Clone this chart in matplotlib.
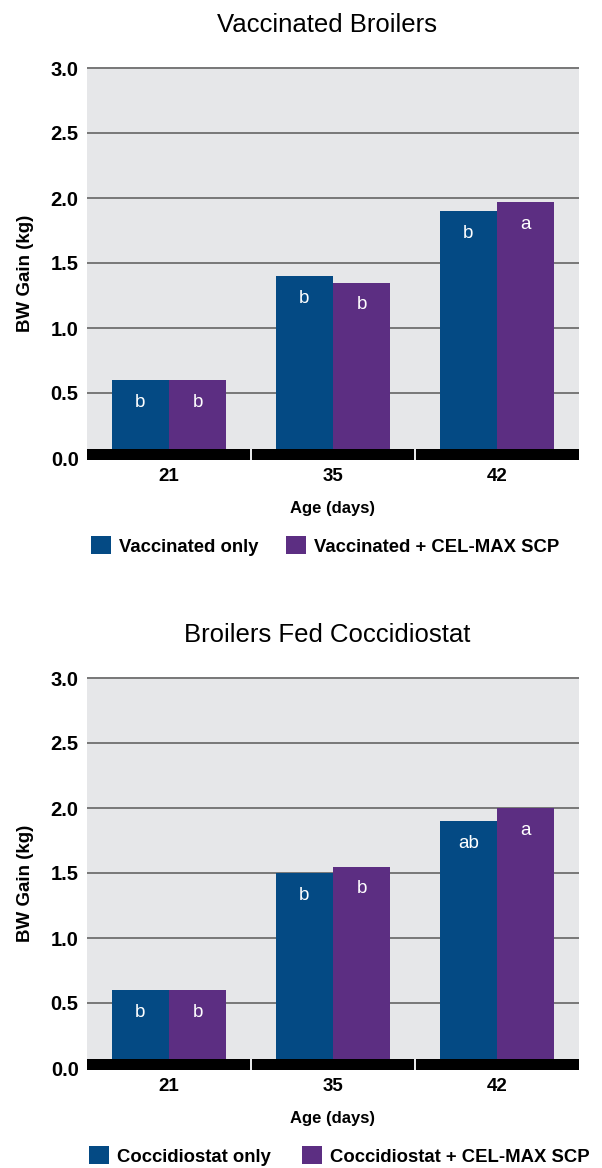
import matplotlib
matplotlib.use("Agg")
import matplotlib.pyplot as plt
from matplotlib.patches import Patch, Rectangle
import numpy as np

plt.rcParams['font.family'] = ['Liberation Sans', 'DejaVu Sans']

# ---------------- data ----------------
ages = ["21", "35", "42"]

vacc_titles = "Vaccinated Broilers"
vacc_series_names = ["Vaccinated only", "Vaccinated + CEL-MAX SCP"]
vacc_only = [0.60, 1.40, 1.90]
vacc_cel = [0.60, 1.35, 1.97]
vacc_only_sig = ["b", "b", "b"]
vacc_cel_sig = ["b", "b", "a"]

cocc_titles = "Broilers Fed Coccidiostat"
cocc_series_names = ["Coccidiostat only", "Coccidiostat + CEL-MAX SCP"]
cocc_only = [0.60, 1.50, 1.90]
cocc_cel = [0.60, 1.55, 2.00]
cocc_only_sig = ["b", "b", "ab"]
cocc_cel_sig = ["b", "b", "a"]

yticks = [0.0, 0.5, 1.0, 1.5, 2.0, 2.5, 3.0]
ytick_labels = ["0.0", "0.5", "1.0", "1.5", "2.0", "2.5", "3.0"]

# ---------------- style ----------------
W, H = 602, 1168
BLUE = "#044a84"
PURPLE = "#5c2e82"
BG = "#e6e7e9"
GRID = "#6f6f6f"

fig = plt.figure(figsize=(W / 100, H / 100), dpi=100)


def px(x):
    return x / W


def py(y):
    return 1 - y / H


def draw_panel(base_y, title, names, s1, s2, l1, l2, leg_x):
    # base_y: pixel row of data value 0
    top_px = base_y - 391           # a bit above 3.0
    bot_px = base_y + 2
    left_px, right_px = 87, 579
    ax = fig.add_axes([px(left_px), py(bot_px), px(right_px - left_px),
                       (bot_px - top_px) / H])
    ax.set_facecolor(BG)
    ax.set_xlim(-0.5, 2.5)
    ax.set_ylim(-2 / 130, 3 + 1 / 130)
    for s in ax.spines.values():
        s.set_visible(False)
    for y in yticks[1:]:
        ax.axhline(y, color=GRID, lw=1.3, zorder=1)

    x = np.arange(len(ages))
    w = 0.35
    b1 = ax.bar(x - w / 2, s1, w, color=BLUE, zorder=2)
    b2 = ax.bar(x + w / 2, s2, w, color=PURPLE, zorder=2)
    for bars, labs in ((b1, l1), (b2, l2)):
        for r, lab in zip(bars, labs):
            ax.annotate(lab, (r.get_x() + r.get_width() / 2, r.get_height()),
                        xytext=(0, -10), textcoords="offset points",
                        ha="center", va="top", color="white", fontsize=13.5,
                        zorder=4)

    # black baseline band with small gaps between groups
    gap = 0.006
    segs = [(-0.5, 0.5 - gap), (0.5 + gap, 1.5 - gap), (1.5 + gap, 2.5)]
    for a, b in segs:
        ax.add_patch(Rectangle((a, -2 / 130), b - a, 11 / 130,
                               facecolor="black", edgecolor="none", zorder=3,
                               clip_on=False))

    ax.set_yticks(yticks)
    ax.set_yticklabels(ytick_labels, fontsize=14.5, fontweight="bold")
    ax.set_xticks(x)
    ax.set_xticklabels(ages, fontsize=13.5, fontweight="bold")
    ax.tick_params(axis="both", length=0)
    ax.tick_params(axis="y", pad=6)
    ax.tick_params(axis="x", pad=6)

    fig.text(px(327), py(base_y - 433), title, fontsize=18.5,
             ha="center", va="center")
    fig.text(px(26), py(base_y - 185), "BW Gain (kg)", fontsize=13.5,
             fontweight="bold", rotation=90, ha="center", va="center")
    fig.text(px(333), py(base_y + 51), "Age (days)", fontsize=12,
             fontweight="bold", ha="center", va="center")

    for name, col, lx in zip(names, (BLUE, PURPLE), leg_x):
        fig.legend(handles=[Patch(facecolor=col, edgecolor="none")],
                   labels=[name], loc="center left",
                   bbox_to_anchor=(px(lx), py(base_y + 88)),
                   frameon=False, borderpad=0, borderaxespad=0,
                   handlelength=20 / 18.5, handleheight=20 / 18.5,
                   handletextpad=0.42,
                   prop={"size": 13.3, "weight": "bold"})
    return ax


draw_panel(458, vacc_titles, vacc_series_names, vacc_only, vacc_cel,
           vacc_only_sig, vacc_cel_sig, (91, 286))
draw_panel(1068, cocc_titles, cocc_series_names, cocc_only, cocc_cel,
           cocc_only_sig, cocc_cel_sig, (89, 302))

fig.savefig("out.png", dpi=100)
